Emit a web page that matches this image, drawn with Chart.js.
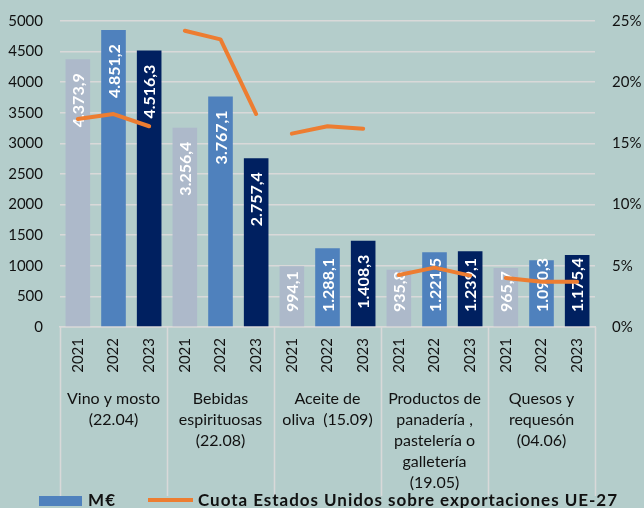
<!DOCTYPE html>
<html>
<head>
<meta charset="utf-8">
<script src="https://cdn.jsdelivr.net/npm/chart.js@4.4.1/dist/chart.umd.min.js"></script>
<style>
  body { margin: 0; background: #b4cdcb; }
  #wrap { width: 644px; height: 508px; position: relative; }
</style>
</head>
<body>
<div id="wrap"><canvas id="grafico"></canvas></div>
<script>
// datos
const categorias = [
    ['Vino y mosto', '(22.04)'],
    ['Bebidas', 'espirituosas', '(22.08)'],
    ['Aceite de', 'oliva  (15.09)'],
    ['Productos de', 'panadería ,', 'pastelería o', 'galletería', '(19.05)'],
    ['Quesos y', 'requesón', '(04.06)']
];
const anios = ['2021', '2022', '2023'];
const exportaciones = [4373.9, 4851.2, 4516.3, 3256.4, 3767.1, 2757.4, 994.1, 1288.1, 1408.3, 935.8, 1221.5, 1239.1, 965.7, 1090.3, 1175.4];
const cuotaEEUU = [17.0, 17.4, 16.4, 24.2, 23.5, 17.4, 15.8, 16.4, 16.2, 4.25, 4.85, 4.2, 4.0, 3.7, 3.7];
const ticksIzq = [0, 500, 1000, 1500, 2000, 2500, 3000, 3500, 4000, 4500, 5000];
const ticksDer = [0, 5, 10, 15, 20, 25];

const coloresAnio = ['#adb9ca', '#4f81bd', '#002060'];
const NARANJA = '#ed7d31';
const FUENTE = 'Lato, "Open Sans", sans-serif';

const etiquetas = categorias.flatMap(() => anios);

// formato español: 4.373,9
const formato = (v) => {
    const [ent, dec] = v.toFixed(1).split('.');
    return ent.replace(/\B(?=(\d{3})+(?!\d))/g, '.') + ',' + dec;
};

// etiquetas blancas giradas dentro de las barras
const etiquetasBarras = {
    id: 'etiquetasBarras',
    afterDatasetDraw(chart, args) {
        if (args.index !== 0) return;
        const ctx = chart.ctx;
        const base = chart.scales.y.getPixelForValue(0);
        ctx.save();
        ctx.font = 'bold 16px ' + FUENTE;
        ctx.fillStyle = '#ffffff';
        args.meta.data.forEach((bar, i) => {
            const txt = formato(exportaciones[i]);
            const w = ctx.measureText(txt).width;
            const top = Math.min(bar.y + 14, base - 15 - w);
            ctx.save();
            ctx.translate(bar.x, top);
            ctx.rotate(-Math.PI / 2);
            ctx.textAlign = 'right';
            ctx.textBaseline = 'middle';
            ctx.fillText(txt, 0, 1);
            ctx.restore();
        });
        ctx.restore();
    }
};

// texto ajustado a un ancho dado
const textoAncho = (ctx, txt, x, y, ancho) => {
    const w = ctx.measureText(txt).width;
    if ('letterSpacing' in ctx && txt.length > 1) {
        ctx.letterSpacing = ((ancho - w) / (txt.length - 1)) + 'px';
        ctx.fillText(txt, x, y);
        ctx.letterSpacing = '0px';
    } else {
        ctx.save();
        ctx.translate(x, y);
        ctx.scale(ancho / w, 1);
        ctx.fillText(txt, 0, 0);
        ctx.restore();
    }
};

// categorías, separadores y leyenda
const ejeCategorias = {
    id: 'ejeCategorias',
    afterDraw(chart) {
        const ctx = chart.ctx;
        const x = chart.scales.x;
        const base = chart.chartArea.bottom;
        const paso = x.getPixelForValue(1) - x.getPixelForValue(0);
        ctx.save();
        ctx.strokeStyle = '#d9d9d9';
        ctx.lineWidth = 1.5;
        ctx.beginPath();
        for (let i = 0; i <= categorias.length; i++) {
            const px = Math.round(x.getPixelForValue(i * 3) - paso / 2) + 0.5;
            ctx.moveTo(px, base);
            ctx.lineTo(px, 496);
        }
        ctx.stroke();

        ctx.fillStyle = '#111';
        ctx.font = '16px ' + FUENTE;
        ctx.textAlign = 'center';
        ctx.textBaseline = 'middle';
        categorias.forEach((lineas, i) => {
            const cx = (x.getPixelForValue(i * 3) + x.getPixelForValue(i * 3 + 2)) / 2;
            lineas.forEach((l, k) => ctx.fillText(l, cx, 399 + k * 21));
        });

        // leyenda
        ctx.fillStyle = '#4f81bd';
        ctx.fillRect(39, 496, 43, 10);
        ctx.strokeStyle = NARANJA;
        ctx.lineWidth = 4;
        ctx.beginPath();
        ctx.moveTo(148, 500);
        ctx.lineTo(193, 500);
        ctx.stroke();
        ctx.fillStyle = '#111';
        ctx.font = 'bold 17px ' + FUENTE;
        ctx.textAlign = 'left';
        textoAncho(ctx, 'M€', 88, 501, 27);
        textoAncho(ctx, 'Cuota Estados Unidos sobre exportaciones UE-27', 198, 501, 419);
        ctx.restore();
    }
};

// anchura fija del eje y sin relleno vertical extra
const ajustarEje = (ancho) => (s) => {
    s.width = ancho;
    s.paddingTop = 8;
    s.paddingBottom = 8;
};

const ctx = document.getElementById('grafico').getContext('2d');
const grafico = new Chart(ctx, {
    data: {
        labels: etiquetas,
        datasets: [
            {
                type: 'bar',
                label: 'M€',
                data: exportaciones,
                backgroundColor: exportaciones.map((v, i) => coloresAnio[i % 3]),
                barPercentage: 0.69,
                categoryPercentage: 1,
                yAxisID: 'y',
                order: 2
            },
            {
                type: 'line',
                label: 'Cuota Estados Unidos sobre exportaciones UE-27',
                data: cuotaEEUU,
                borderColor: NARANJA,
                borderWidth: 4,
                borderCapStyle: 'round',
                borderJoinStyle: 'round',
                pointRadius: 0,
                tension: 0,
                yAxisID: 'y1',
                order: 1,
                segment: {
                    borderColor: c => (c.p0DataIndex % 3 === 2 ? 'rgba(0,0,0,0)' : NARANJA)
                }
            }
        ]
    },
    options: {
        responsive: true,
        maintainAspectRatio: false,
        animation: false,
        layout: { padding: { top: 21, left: 0, right: 0, bottom: 0 } },
        plugins: {
            legend: { display: false },
            tooltip: { enabled: false }
        },
        scales: {
            x: {
                offset: true,
                grid: { display: false },
                border: { color: '#d9d9d9', width: 1.5 },
                ticks: {
                    color: '#111',
                    font: { family: FUENTE, size: 15 },
                    minRotation: 90,
                    maxRotation: 90,
                    padding: 3,
                    autoSkip: false
                },
                afterFit: (s) => { s.height = 181; }
            },
            y: {
                position: 'left',
                min: 0,
                max: 5000,
                afterBuildTicks: (s) => { s.ticks = ticksIzq.map(v => ({ value: v })); },
                grid: { color: '#d9d9d9', lineWidth: 1.5, drawTicks: false },
                border: { display: false },
                ticks: {
                    color: '#111',
                    font: { family: FUENTE, size: 15 },
                    padding: 17,
                    callback: (v) => String(v)
                },
                afterFit: ajustarEje(60)
            },
            y1: {
                position: 'right',
                min: 0,
                max: 25,
                afterBuildTicks: (s) => { s.ticks = ticksDer.map(v => ({ value: v })); },
                grid: { display: false, drawTicks: false },
                border: { display: false },
                ticks: {
                    color: '#111',
                    font: { family: FUENTE, size: 15 },
                    padding: 17,
                    callback: (v) => v + '%'
                },
                afterFit: ajustarEje(49)
            }
        }
    },
    plugins: [etiquetasBarras, ejeCategorias]
});
</script>
</body>
</html>
